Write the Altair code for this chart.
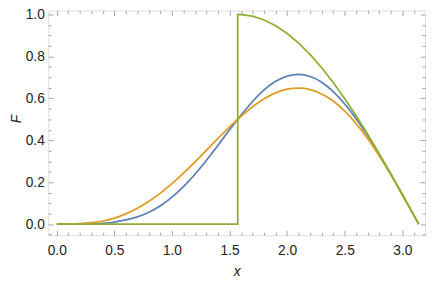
import altair as alt
import pandas as pd

# ---- data ----
x_grid = [0.0, 0.1, 0.2, 0.3, 0.4, 0.5, 0.6, 0.7, 0.8, 0.9, 1.0, 1.1, 1.2, 1.3, 1.4, 1.5,
          1.6, 1.7, 1.8, 1.9, 2.0, 2.1, 2.2, 2.3, 2.4, 2.5, 2.6, 2.7, 2.8, 2.9, 3.0, 3.1, 3.1416]
blue_y = [0.000, 0.000, 0.000, 0.001, 0.004, 0.010, 0.020, 0.035, 0.057, 0.088, 0.129, 0.179,
          0.238, 0.305, 0.376, 0.450, 0.520, 0.585, 0.640, 0.681, 0.706, 0.714, 0.704, 0.677,
          0.632, 0.573, 0.502, 0.421, 0.332, 0.238, 0.141, 0.042, 0.000]
orange_y = [0.000, 0.000, 0.002, 0.007, 0.015, 0.029, 0.049, 0.076, 0.109, 0.148, 0.193, 0.243,
            0.297, 0.353, 0.409, 0.464, 0.514, 0.560, 0.598, 0.626, 0.644, 0.649, 0.642, 0.621,
            0.587, 0.539, 0.479, 0.407, 0.325, 0.236, 0.140, 0.042, 0.000]
green_x = [0.0, 1.5708, 1.5708, 1.6, 1.7, 1.8, 1.9, 2.0, 2.1, 2.2, 2.3, 2.4, 2.5, 2.6, 2.7,
           2.8, 2.9, 3.0, 3.1, 3.1416]
green_y = [0.0, 0.0, 1.0, 0.9996, 0.9917, 0.9738, 0.9463, 0.9093, 0.8632, 0.8085, 0.7457,
           0.6755, 0.5985, 0.5155, 0.4274, 0.3350, 0.2392, 0.1411, 0.0416, 0.0]

series_names = ["blue", "orange", "green"]
series_colors = ["#5E81B5", "#E19C24", "#8FB032"]

x_major = [0.0, 0.5, 1.0, 1.5, 2.0, 2.5, 3.0]
x_minor = [0.1, 0.2, 0.3, 0.4, 0.6, 0.7, 0.8, 0.9, 1.1, 1.2, 1.3, 1.4, 1.6, 1.7, 1.8, 1.9,
           2.1, 2.2, 2.3, 2.4, 2.6, 2.7, 2.8, 2.9, 3.1]
y_major = [0.0, 0.2, 0.4, 0.6, 0.8, 1.0]
y_minor = [-0.05, 0.05, 0.1, 0.15, 0.25, 0.3, 0.35, 0.45, 0.5, 0.55, 0.65, 0.7, 0.75, 0.85,
           0.9, 0.95]

# ---- chart ----
W, H = 384, 229
FRAME = "#a0a0a0"
TEXT = "#222222"
FONT = "Liberation Sans"

xs = alt.Scale(domain=[-0.074, 3.197], nice=False, zero=False)
ys = alt.Scale(domain=[-0.053, 1.0187], nice=False, zero=False)

n = len(x_grid)
smooth_df = pd.DataFrame({
    "x": x_grid + x_grid,
    "F": blue_y + orange_y,
    "series": [series_names[0]] * n + [series_names[1]] * n,
})
green_df = pd.DataFrame({"x": green_x, "F": green_y, "i": list(range(len(green_x)))})

smooth = alt.Chart(smooth_df).mark_line(interpolate="monotone", strokeWidth=1.8).encode(
    x=alt.X("x:Q", scale=xs, axis=None),
    y=alt.Y("F:Q", scale=ys, axis=None),
    color=alt.Color("series:N", scale=alt.Scale(domain=series_names, range=series_colors), legend=None),
)
green = alt.Chart(green_df).mark_line(strokeWidth=1.8, color=series_colors[2]).encode(
    x=alt.X("x:Q", scale=xs, axis=None),
    y=alt.Y("F:Q", scale=ys, axis=None),
    order="i:Q",
)


def ax_layer(xa=None, ya=None):
    return alt.Chart(green_df).mark_point(opacity=0, size=1).encode(
        x=alt.X("x:Q", scale=xs, axis=xa),
        y=alt.Y("F:Q", scale=ys, axis=ya),
    )


def tick_axis(orient, offset, values, size):
    return alt.Axis(orient=orient, offset=offset, values=values, labels=False, ticks=True,
                    tickSize=size, tickColor=FRAME, tickWidth=1, domain=False, grid=False, title="")


y_lab = alt.Axis(orient="left", values=y_major, format=".1f", ticks=False, tickSize=0, domain=False,
                 grid=False, labelPadding=4, labelFont=FONT, labelFontSize=14, labelColor=TEXT,
                 title="F", titleFont=FONT, titleFontSize=14, titleFontStyle="italic",
                 titleFontWeight="normal", titleColor=TEXT, titleAngle=270, titleX=-28, titleY=110,
                 titleAlign="center", titleBaseline="alphabetic")
x_lab = alt.Axis(orient="bottom", values=x_major, format=".1f", ticks=False, tickSize=0, domain=False,
                 grid=False, labelPadding=9, labelFont=FONT, labelFontSize=14, labelColor=TEXT,
                 title="x", titleFont=FONT, titleFontSize=14, titleFontStyle="italic",
                 titleFontWeight="normal", titleColor=TEXT, titleX=W / 2, titleY=41,
                 titleAlign="center", titleBaseline="alphabetic")

layers = [
    smooth, green,
    ax_layer(ya=y_lab),
    ax_layer(ya=tick_axis("right", -W, y_major, 5)),
    ax_layer(ya=tick_axis("right", -W, y_minor, 3)),
    ax_layer(ya=tick_axis("left", -W, y_major, 5)),
    ax_layer(ya=tick_axis("left", -W, y_minor, 3)),
    ax_layer(xa=x_lab),
    ax_layer(xa=tick_axis("top", -H, x_major, 5)),
    ax_layer(xa=tick_axis("top", -H, x_minor, 3)),
    ax_layer(xa=tick_axis("bottom", -H, x_major, 5)),
    ax_layer(xa=tick_axis("bottom", -H, x_minor, 3)),
]

chart = alt.layer(*layers).resolve_scale(x="shared", y="shared").resolve_axis(
    x="independent", y="independent"
).properties(
    width=W, height=H,
    autosize=alt.AutoSizeParams(type="none"),
    padding={"left": 41, "top": 0, "right": 3, "bottom": 42},
).configure_view(stroke=FRAME, strokeWidth=1).configure(background="white")

chart.save("out.html", embed_options={"renderer": "svg", "actions": False})
